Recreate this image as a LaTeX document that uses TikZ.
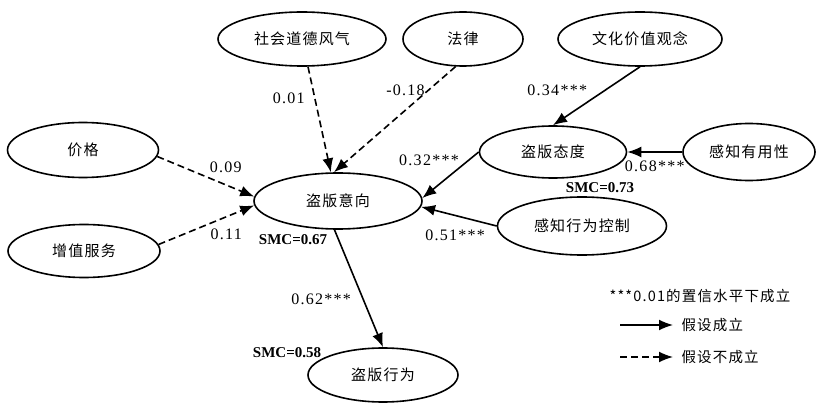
\documentclass[tikz,border=0pt]{standalone}
\usepackage{fontspec}
\setmainfont{Liberation Serif}
\newfontfamily\cjk[LetterSpace=8]{Noto Sans CJK SC}
\newfontfamily\numfont[LetterSpace=8]{Liberation Serif}
\usetikzlibrary{shapes.geometric,arrows.meta}

\begin{document}
\begin{tikzpicture}[x=1pt,y=-1pt,
    var/.style={ellipse, draw, line width=1.6pt, inner sep=0pt, font=\fontsize{15}{18}\cjk},
    coef/.style={font=\fontsize{16}{18}\numfont},
    smc/.style={font=\fontsize{15}{17}\bfseries},
    accepted/.style={line width=1.6pt, -{Latex[length=14pt,width=11pt]}},
    rejected/.style={accepted, dash pattern=on 7pt off 4pt}]
        \useasboundingbox (0,0) rectangle (823,409);
        % latent variables
        \node(moral)    at (302, 39) [var, minimum width=168pt, minimum height=54pt] {社会道德风气};
        \node(law)      at (463, 39) [var, minimum width=120pt, minimum height=54pt] {法律};
        \node(culture)  at (640, 39) [var, minimum width=164pt, minimum height=54pt] {文化价值观念};
        \node(price)    at ( 83,150) [var, minimum width=151pt, minimum height=55pt] {价格};
        \node(service)  at ( 84,251) [var, minimum width=152pt, minimum height=53pt] {增值服务};
        \node(intent)   at (338,201) [var, minimum width=168pt, minimum height=56pt] {盗版意向};
        \node(attitude) at (553,152) [var, minimum width=147pt, minimum height=52pt] {盗版态度};
        \node(useful)   at (749,152) [var, minimum width=132pt, minimum height=57pt] {感知有用性};
        \node(control)  at (582,226) [var, minimum width=169pt, minimum height=58pt] {感知行为控制};
        \node(behavior) at (383,375) [var, minimum width=150pt, minimum height=54pt] {盗版行为};
        % paths
        \draw[rejected] (moral)        -- node[coef, pos=0.3,  left=6pt]     {0.01}    (intent.104);
        \draw[rejected] (law.-105)     -- node[coef, pos=0.22, left]         {-0.18}   (intent.98);
        \draw[rejected] (price.-5)     -- node[coef, pos=0.5,  above right]  {0.09}    (intent.177);
        \draw[rejected] (service.5)    -- node[coef, pos=0.5,  below right]  {0.11}    (intent.183);
        \draw[accepted] (culture.south)-- node[coef, pos=0.4,  left=14pt]    {0.34***} (attitude.north);
        \draw[accepted] (useful.west)  -- node[coef, pos=0.5,  below=5pt]    {0.68***} (attitude.east);
        \draw[accepted] (attitude.west)-- node[coef, pos=0.19, left=5pt]     {0.32***} (intent.2);
        \draw[accepted] (control.west) -- node[coef, pos=0.55, below=10pt]   {0.51***} (intent.-4);
        \draw[accepted] (intent.263)   -- node[coef, pos=0.59, left=8pt]     {0.62***} (behavior.north);
        % squared multiple correlations
        \node(smcA) at (600,188) [smc] {SMC=0.73};
        \node(smcI) at (293,240) [smc] {SMC=0.67};
        \node(smcB) at (287,353) [smc] {SMC=0.58};
        % legend
        \node(sig) at (700,296) [font=\fontsize{14.5}{16}\cjk] {***0.01的置信水平下成立};
        \coordinate(a1) at (620,325);
        \coordinate(a2) at (673,325);
        \coordinate(b1) at (620,357);
        \coordinate(b2) at (673,357);
        \draw[accepted] (a1) -- (a2);
        \draw[rejected] (b1) -- (b2);
        \node(yes) at (678,325) [right, font=\fontsize{14.5}{16}\cjk] {假设成立};
        \node(no)  at (678,357) [right, font=\fontsize{14.5}{16}\cjk] {假设不成立};
    \end{tikzpicture}
\end{document}
